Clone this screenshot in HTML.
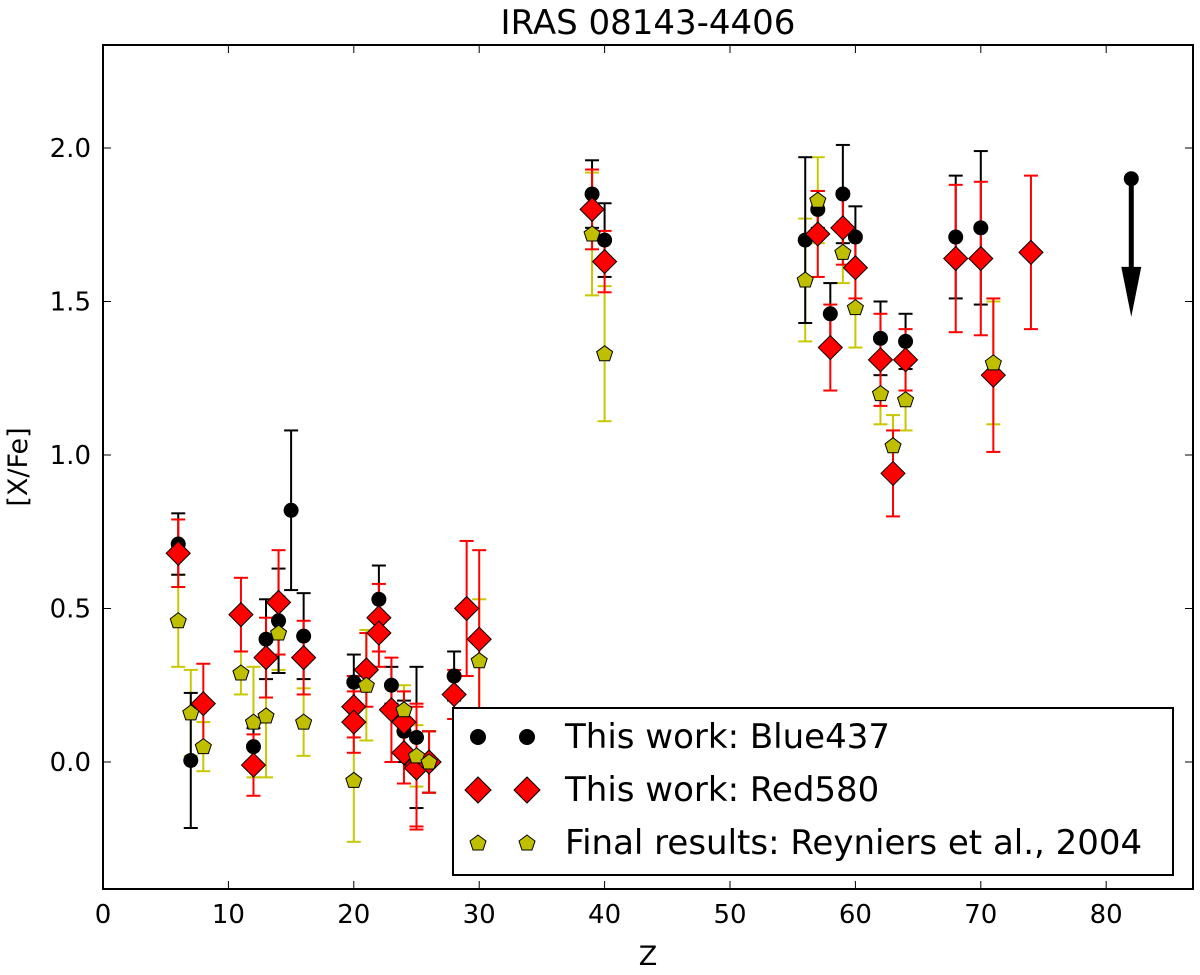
<!DOCTYPE html>
<html><head><meta charset="utf-8"><style>
body{margin:0;background:#fff}
svg{font-family:"DejaVu Sans","Liberation Sans",sans-serif}
</style></head><body>
<svg id="chart" width="1200" height="970" viewBox="0 0 1200 970">
<rect x="103" y="45" width="1090" height="844" fill="#fff" stroke="#000" stroke-width="2"/>
<text x="648" y="34" font-size="34" text-anchor="middle">IRAS 08143-4406</text>
<text x="648" y="965" font-size="27" text-anchor="middle">Z</text>
<text x="27" y="467" font-size="27" text-anchor="middle" transform="rotate(-90 27 467)">[X/Fe]</text>
<g id="axes"></g>
<g id="marks"></g>
<g>
<rect x="453" y="708" width="720" height="167" fill="#fff" stroke="#000" stroke-width="2"/>
<circle cx="478" cy="737" r="8" fill="#000"/>
<circle cx="527" cy="737" r="8" fill="#000"/>
<text x="565" y="748" font-size="34">This work: Blue437</text>
<path d="M478 777 l13 13 l-13 13 l-13 -13z M527 777 l13 13 l-13 13 l-13 -13z" fill="red" stroke="#000"/>
<text x="565" y="801" font-size="34">This work: Red580</text>
<path d="M478 835 l8 6 l-3 9 h-10 l-3 -9z M527 835 l8 6 l-3 9 h-10 l-3 -9z" fill="#bfbf00" stroke="#000"/>
<text x="565" y="854" font-size="34">Final results: Reyniers et al., 2004</text>
</g>
</svg>
<script>
const xTicks=[0,10,20,30,40,50,60,70,80];
const yTicks=[0.0,0.5,1.0,1.5,2.0];
const yTickLabels=["0.0","0.5","1.0","1.5","2.0"];
const blueZ=[6,7,12,13,14,15,16,20,22,23,24,25,26,28,39,40,56,57,58,59,60,62,64,68,70];
const blueV=[0.71,0.005,0.05,0.40,0.46,0.82,0.41,0.26,0.53,0.25,0.10,0.08,0.0,0.28,1.85,1.70,1.70,1.80,1.46,1.85,1.71,1.38,1.37,1.71,1.74];
const blueE=[0.10,0.22,0.06,0.13,0.17,0.26,0.14,0.09,0.11,0.06,0.10,0.23,0.10,0.08,0.11,0.12,0.27,0.06,0.10,0.16,0.10,0.12,0.09,0.20,0.25];
const redZ=[6,8,11,12,13,14,16,20,20,21,22,22,23,24,24,25,25,26,28,29,30,39,40,57,58,59,60,62,63,64,68,70,71,74];
const redV=[0.68,0.19,0.48,-0.01,0.34,0.52,0.34,0.18,0.13,0.30,0.47,0.42,0.17,0.13,0.03,-0.01,-0.02,0.0,0.22,0.50,0.40,1.80,1.63,1.72,1.35,1.74,1.61,1.31,0.94,1.31,1.64,1.64,1.26,1.66];
const redE=[0.11,0.13,0.12,0.10,0.13,0.17,0.12,0.10,0.10,0.12,0.11,0.11,0.17,0.10,0.10,0.20,0.20,0.10,0.08,0.22,0.29,0.13,0.10,0.14,0.14,0.12,0.10,0.15,0.14,0.10,0.24,0.25,0.25,0.25];
const yelZ=[6,7,8,11,12,13,14,16,20,21,24,25,26,30,39,40,56,57,59,60,62,63,64,71];
const yelV=[0.46,0.16,0.05,0.29,0.13,0.15,0.42,0.13,-0.06,0.25,0.17,0.02,0.0,0.33,1.72,1.33,1.57,1.83,1.66,1.48,1.20,1.03,1.18,1.30];
const yelE=[0.15,0.14,0.08,0.07,0.18,0.20,0.12,0.11,0.20,0.18,0.08,0.10,0.10,0.20,0.20,0.22,0.20,0.14,0.10,0.13,0.10,0.10,0.10,0.20];
const limitZ=[82], limitV=[1.90], limitTo=[1.45];

const X=z=>103+z*12.54;
const Y=v=>762-v*307;
const NS="http://www.w3.org/2000/svg";
function mk(tag,attrs,parent){const e=document.createElementNS(NS,tag);for(const k in attrs)e.setAttribute(k,attrs[k]);parent.appendChild(e);return e;}
const axes=document.getElementById('axes'), marks=document.getElementById('marks');
xTicks.forEach(t=>{
  const x=X(t);
  const a=mk('line',{x1:x,x2:x,y1:889,y2:881,stroke:'#000','stroke-width':1},axes);
  
  
  mk('line',{x1:x,x2:x,y1:45,y2:53,stroke:'#000','stroke-width':1},axes);
  const l=mk('text',{x:x,y:923,'font-size':26,'text-anchor':'middle'},axes);
  l.textContent=t;
  
  
});
yTicks.forEach((t,i)=>{
  const y=Y(t);
  const a=mk('line',{x1:103,x2:111,y1:y,y2:y,stroke:'#000'},axes);
  
  
  mk('line',{x1:1193,x2:1185,y1:y,y2:y,stroke:'#000'},axes);
  const l=mk('text',{x:91,y:y+9,'font-size':26,'text-anchor':'end'},axes);
  l.textContent=yTickLabels[i];
  
  
});
function err(z,v,e,c){
  const x=X(z),y1=Y(v+e),y2=Y(v-e);
  mk('line',{x1:x,x2:x,y1:y1,y2:y2,stroke:c,'stroke-width':2},marks);
  mk('line',{x1:x-7,x2:x+7,y1:y1,y2:y1,stroke:c,'stroke-width':2},marks);
  mk('line',{x1:x-7,x2:x+7,y1:y2,y2:y2,stroke:c,'stroke-width':2},marks);
}
yelZ.forEach((z,i)=>err(z,yelV[i],yelE[i],'#c8c800'));
blueZ.forEach((z,i)=>err(z,blueV[i],blueE[i],'#000'));
redZ.forEach((z,i)=>err(z,redV[i],redE[i],'red'));
blueZ.forEach((z,i)=>{
  const c=mk('circle',{cx:X(z),cy:Y(blueV[i]),r:7.5,fill:'#000'},marks);
  
  
});
redZ.forEach((z,i)=>{
  const x=X(z),y=Y(redV[i]);
  const p=mk('path',{d:`M${x} ${y-12} l12 12 l-12 12 l-12 -12z`,fill:'red',stroke:'#000','stroke-width':1},marks);
  
  
});
yelZ.forEach((z,i)=>{
  const x=X(z),y=Y(yelV[i]);
  const p=mk('path',{d:`M${x} ${y-8} l8 6 l-3 9 h-10 l-3 -9z`,fill:'#bfbf00',stroke:'#000','stroke-width':1},marks);
  
  
});
limitZ.forEach((z,i)=>{
  const x=X(z),y1=Y(limitV[i]),y2=Y(limitTo[i]);
  mk('line',{x1:x,x2:x,y1:y1,y2:y2-40,stroke:'#000','stroke-width':5},marks);
  const a=mk('path',{d:`M${x-10} ${y2-50} L${x+10} ${y2-50} L${x} ${y2}z`,fill:'#000'},marks);
  
  
  mk('circle',{cx:x,cy:y1,r:7.5,fill:'#000'},marks);
});
</script>
</body></html>
